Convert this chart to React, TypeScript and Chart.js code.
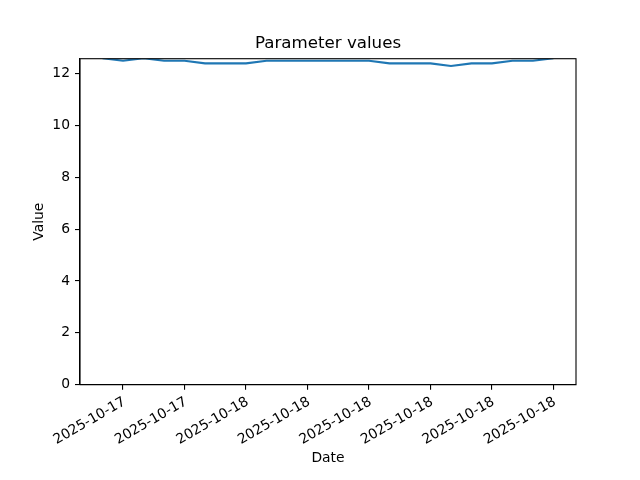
import React, { useEffect, useRef } from "react";
import { Chart, registerables } from "chart.js";

Chart.register(...registerables);

// hours since 2025-10-17 17:00 (one reading per hour)
const HOURS = [0, 1, 2, 3, 4, 5, 6, 7, 8, 9, 10, 11, 12, 13, 14, 15, 16, 17, 18, 19, 20, 21, 22];
const VALUES = [12.6, 12.5, 12.6, 12.5, 12.5, 12.4, 12.4, 12.4, 12.5, 12.5, 12.5, 12.5, 12.5, 12.5, 12.4, 12.4, 12.4, 12.3, 12.4, 12.4, 12.5, 12.5, 12.6];
const X_TICKS = [1, 4, 7, 10, 13, 16, 19, 22];
const X_TICK_LABELS = ["2025-10-17", "2025-10-17", "2025-10-18", "2025-10-18", "2025-10-18", "2025-10-18", "2025-10-18", "2025-10-18"];
const Y_TICKS = [0, 2, 4, 6, 8, 10, 12];
const Y_MAX = 12.58;
const TITLE = "Parameter values";
const X_TITLE = "Date";
const Y_TITLE = "Value";

const FONT = "'DejaVu Sans', sans-serif";

const framePlugin = {
  id: "frame",
  afterDatasetsDraw(chart: any) {
    const { ctx, chartArea } = chart;
    ctx.save();
    ctx.strokeStyle = "#000";
    ctx.lineWidth = 1.1;
    ctx.strokeRect(chartArea.left, chartArea.top, chartArea.right - chartArea.left, chartArea.bottom - chartArea.top);
    ctx.restore();
  },
};

export default function App() {
  const ref = useRef<HTMLCanvasElement>(null);
  useEffect(() => {
    if (!ref.current) return;
    const chart = new Chart(ref.current, {
      type: "line",
      data: {
        datasets: [
          {
            data: HOURS.map((h, i) => ({ x: h, y: VALUES[i] })),
            borderColor: "#1f77b4",
            borderWidth: 2.08,
            pointRadius: 0,
            tension: 0,
            fill: false,
            clip: 0,
          },
        ],
      },
      options: {
        animation: false,
        responsive: false,
        devicePixelRatio: 1,
        layout: { padding: { left: 0, right: 64, top: 0, bottom: 0 } },
        plugins: {
          legend: { display: false },
          tooltip: { enabled: false },
          title: {
            display: true,
            text: TITLE,
            fullSize: false,
            color: "#000",
            font: { family: FONT, size: 16.67, weight: "normal" },
            padding: { top: 33.5, bottom: 5.2 },
          },
        },
        scales: {
          x: {
            type: "linear",
            min: HOURS[0] - 1.1,
            max: HOURS[HOURS.length - 1] + 1.1,
            afterFit(scale: any) {
              scale.height = 95.3;
            },
            afterBuildTicks(scale: any) {
              scale.ticks = X_TICKS.map((v) => ({ value: v }));
            },
            ticks: {
              autoSkip: false,
              maxRotation: 30,
              minRotation: 30,
              color: "#000",
              padding: 4,
              labelOffset: 1.5,
              font: { family: FONT, size: 13.89 },
              callback: (value: any) => {
                const idx = X_TICKS.indexOf(Number(value));
                return idx >= 0 ? X_TICK_LABELS[idx] : "";
              },
            },
            grid: {
              drawOnChartArea: false,
              drawTicks: true,
              tickLength: 5,
              color: "#000",
              lineWidth: 1.1,
            },
            border: { display: true, color: "#000", width: 1.1 },
            title: {
              display: true,
              text: X_TITLE,
              color: "#000",
              font: { family: FONT, size: 13.89 },
              padding: { top: 0, bottom: 13.7 },
            },
          },
          y: {
            type: "linear",
            min: 0,
            max: Y_MAX,
            afterFit(scale: any) {
              scale.width = 80;
            },
            afterBuildTicks(scale: any) {
              scale.ticks = Y_TICKS.map((v) => ({ value: v }));
            },
            ticks: {
              color: "#000",
              padding: 5,
              font: { family: FONT, size: 13.89 },
              callback: (value: any) => String(value),
            },
            grid: {
              drawOnChartArea: false,
              drawTicks: true,
              tickLength: 5,
              color: "#000",
              lineWidth: 1.1,
            },
            border: { display: true, color: "#000", width: 1.1 },
            title: {
              display: true,
              text: Y_TITLE,
              color: "#000",
              font: { family: FONT, size: 13.89 },
              padding: { top: 30.7, bottom: 0 },
            },
          },
        },
      },
      plugins: [framePlugin],
    } as any);
    return () => chart.destroy();
  }, []);
  return (
    <div style={{ position: "fixed", left: 0, top: 0, width: 640, height: 480, background: "#fff" }}>
      <canvas ref={ref} width={640} height={480} style={{ width: 640, height: 480 }} />
    </div>
  );
}
